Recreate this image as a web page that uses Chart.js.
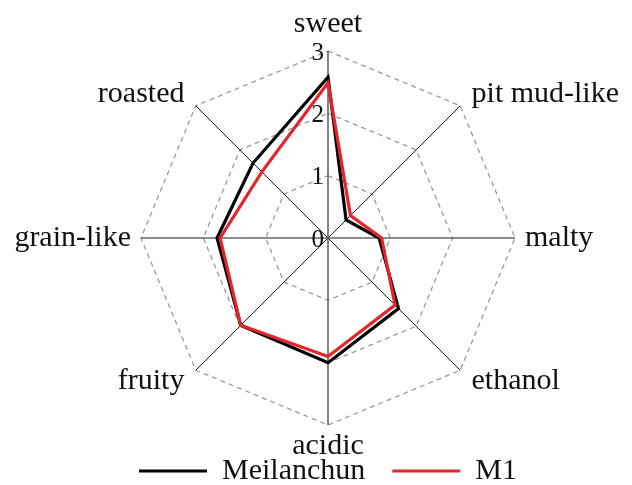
<!DOCTYPE html>
<html>
<head>
<meta charset="utf-8">
<script src="https://cdn.jsdelivr.net/npm/chart.js@4.4.1/dist/chart.umd.min.js"></script>
<style>
html,body{margin:0;padding:0;background:#fff;}
#wrap{width:632px;height:485px;}
</style>
</head>
<body>
<div id="wrap"><canvas id="c" width="632" height="485"></canvas></div>
<script>
// ---- data ----
const categories = ['sweet', 'pit mud-like', 'malty', 'ethanol', 'acidic', 'fruity', 'grain-like', 'roasted'];
const meilanchunValues = [2.58, 0.41, 0.82, 1.60, 2.00, 1.98, 1.78, 1.70];
const m1Values = [2.49, 0.51, 0.86, 1.52, 1.90, 1.98, 1.73, 1.50];
const seriesNames = ['Meilanchun', 'M1'];
const tickValues = [0, 1, 2, 3];
const tickLabels = ['0', '1', '2', '3'];

const FONT = "'Liberation Serif', 'Times New Roman', serif";
const labelPadding = [27, 16, 10, 16, 21, 16, 10, 16];

const tickLabelPlugin = {
  id: 'tickLabels',
  afterDraw(chart) {
    const s = chart.scales.r;
    const ctx = chart.ctx;
    ctx.save();
    ctx.font = '25px ' + FONT;
    ctx.fillStyle = '#111';
    ctx.textAlign = 'right';
    ctx.textBaseline = 'middle';
    tickValues.forEach((v, i) => {
      const d = s.getDistanceFromCenterForValue(v);
      ctx.fillText(tickLabels[i], s.xCenter - 4, s.yCenter - d + 2);
    });
    ctx.restore();
  }
};

new Chart(document.getElementById('c'), {
  type: 'radar',
  data: {
    labels: categories,
    datasets: [
      { label: seriesNames[0], data: meilanchunValues, borderColor: '#000', backgroundColor: '#000',
        borderWidth: 3.2, pointRadius: 0, pointHoverRadius: 0, fill: false, order: 1 },
      { label: seriesNames[1], data: m1Values, borderColor: '#e3262b', backgroundColor: '#e3262b',
        borderWidth: 3.2, pointRadius: 0, pointHoverRadius: 0, fill: false, order: 0 }
    ]
  },
  options: {
    responsive: false,
    animation: false,
    devicePixelRatio: 1,
    layout: { padding: { left: -16, right: -40, top: 21, bottom: -11 } },
    elements: { line: { tension: 0, borderJoinStyle: 'miter' } },
    scales: {
      r: {
        min: 0, max: 3,
        ticks: { display: false, stepSize: 1 },
        grid: { circular: false, color: '#9a9a9a', lineWidth: 1.3 },
        border: { dash: [5, 4] },
        angleLines: {
          color: c => (c.index % 2 === 0 ? '#666' : '#1a1a1a'),
          lineWidth: c => (c.index % 2 === 0 ? 1.6 : 1)
        },
        pointLabels: {
          font: { family: FONT, size: 30, lineHeight: 0 },
          color: '#111',
          padding: c => labelPadding[c.index]
        }
      }
    },
    plugins: {
      legend: {
        position: 'bottom',
        labels: {
          usePointStyle: true, pointStyle: 'line', pointStyleWidth: 68,
          font: { family: FONT, size: 30 }, color: '#111', padding: 27,
          sort: (a, b) => a.datasetIndex - b.datasetIndex
        },
        title: { display: true, text: '', font: { size: 10, lineHeight: 0 }, padding: { top: -20, bottom: 0 } }
      },
      tooltip: { enabled: false }
    }
  },
  plugins: [tickLabelPlugin]
});
</script>
</body>
</html>
